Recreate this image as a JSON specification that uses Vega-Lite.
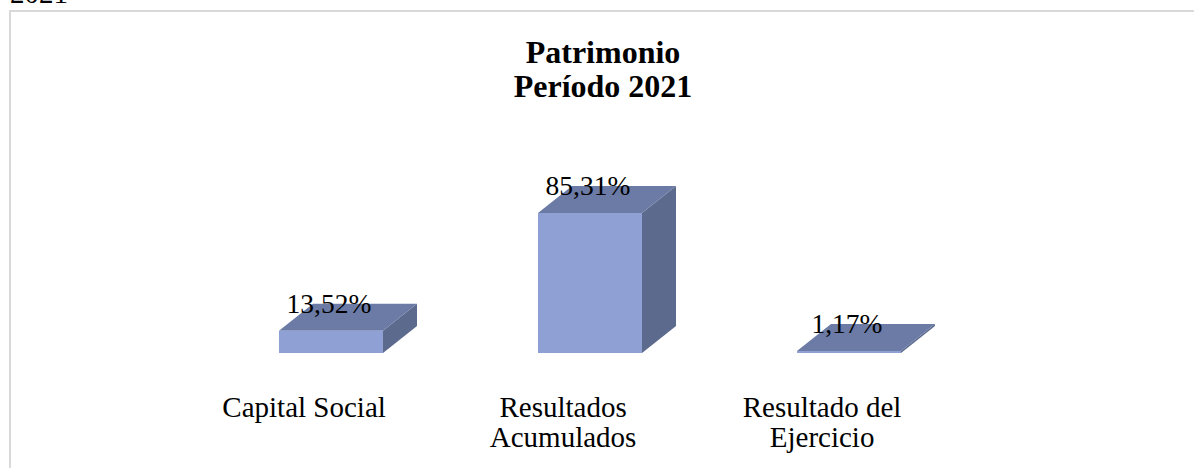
{
  "$schema": "https://vega.github.io/schema/vega-lite/v6.json",
  "autosize": {"type": "none"},
  "padding": {"left": 10, "top": 11, "right": 0, "bottom": 0},
  "width": 1190,
  "height": 470,
  "background": "white",
  "config": {
    "view": {"stroke": "#D9D9D9", "strokeWidth": 2},
    "font": "Liberation Serif"
  },
  "data": {
    "values": [
      {"category": "Capital Social", "value": 13.52},
      {"category": "Resultados Acumulados", "value": 85.31},
      {"category": "Resultado del Ejercicio", "value": 1.17}
    ]
  },
  "transform": [
    {"window": [{"op": "row_number", "as": "rn"}]},
    {"calculate": "datum.rn - 1", "as": "i"}
  ],
  "layer": [
    {
      "transform": [
        {"calculate": "[0, 1]", "as": "k"},
        {"flatten": ["k"]},
        {"calculate": "datum.i + 0.2008 + datum.k * 0.1313", "as": "sx"},
        {"calculate": "datum.value + datum.k * 16.46", "as": "sy"},
        {"calculate": "datum.k * 16.46", "as": "sy2"}
      ],
      "mark": {"type": "area", "orient": "vertical", "color": "#5B6A8D", "interpolate": "linear"},
      "encoding": {
        "x": {"field": "sx", "type": "quantitative", "axis": null, "scale": {"domain": [-1.2394, 3.3552], "nice": false, "zero": false}},
        "y": {"field": "sy", "type": "quantitative", "axis": null, "stack": null, "scale": {"domain": [-78.05, 208.54], "nice": false, "zero": false}},
        "y2": {"field": "sy2"},
        "detail": {"field": "category"}
      }
    },
    {
      "transform": [
        {"calculate": "[0, 1]", "as": "k"},
        {"flatten": ["k"]},
        {"calculate": "datum.i - 0.2008 + datum.k * 0.1313", "as": "tx"},
        {"calculate": "datum.i + 0.2008 + datum.k * 0.1313", "as": "tx2"},
        {"calculate": "datum.value + datum.k * 16.46", "as": "ty"}
      ],
      "mark": {"type": "area", "orient": "horizontal", "color": "#6B7BA6", "interpolate": "linear"},
      "encoding": {
        "y": {"field": "ty", "type": "quantitative", "axis": null, "scale": {"domain": [-78.05, 208.54], "nice": false, "zero": false}},
        "x": {"field": "tx", "type": "quantitative", "axis": null, "stack": null, "scale": {"domain": [-1.2394, 3.3552], "nice": false, "zero": false}},
        "x2": {"field": "tx2"},
        "detail": {"field": "category"}
      }
    },
    {
      "transform": [
        {"calculate": "datum.i - 0.2008", "as": "fx"},
        {"calculate": "datum.i + 0.2008", "as": "fx2"}
      ],
      "mark": {"type": "rect", "color": "#8FA0D4"},
      "encoding": {
        "x": {"field": "fx", "type": "quantitative", "axis": null, "scale": {"domain": [-1.2394, 3.3552], "nice": false, "zero": false}},
        "x2": {"field": "fx2"},
        "y": {"field": "value", "type": "quantitative", "axis": null, "scale": {"domain": [-78.05, 208.54], "nice": false, "zero": false}},
        "y2": {"datum": 0}
      }
    },
    {
      "transform": [
        {"calculate": "replace(format(datum.value, '.2f'), '.', ',') + '%'", "as": "label"}
      ],
      "mark": {"type": "text", "font": "Liberation Serif", "fontSize": 27.5, "color": "black", "align": "center", "baseline": "alphabetic", "dy": -18, "dx": -2},
      "encoding": {
        "x": {"field": "i", "type": "quantitative", "axis": null, "scale": {"domain": [-1.2394, 3.3552], "nice": false, "zero": false}},
        "y": {"field": "value", "type": "quantitative", "axis": null, "scale": {"domain": [-78.05, 208.54], "nice": false, "zero": false}},
        "text": {"field": "label"}
      }
    },
    {
      "transform": [
        {"calculate": "datum.i - 0.104", "as": "lx"},
        {"calculate": "length(datum.category) > 14 ? [substring(datum.category, 0, lastindexof(datum.category, ' ')), substring(datum.category, lastindexof(datum.category, ' ') + 1)] : [datum.category]", "as": "lines"}
      ],
      "mark": {"type": "text", "font": "Liberation Serif", "fontSize": 29, "color": "black", "align": "center", "baseline": "alphabetic", "lineHeight": 30},
      "encoding": {
        "x": {"field": "lx", "type": "quantitative", "axis": null, "scale": {"domain": [-1.2394, 3.3552], "nice": false, "zero": false}},
        "y": {"datum": -39.0, "type": "quantitative", "axis": null, "scale": {"domain": [-78.05, 208.54], "nice": false, "zero": false}},
        "text": {"field": "lines"}
      }
    },
    {
      "data": {"values": [{"heading": ["Patrimonio", "Período 2021"]}]},
      "mark": {"type": "text", "font": "Liberation Serif", "fontSize": 32, "fontWeight": "bold", "color": "black", "align": "center", "baseline": "alphabetic", "lineHeight": 34},
      "encoding": {
        "x": {"datum": 1.0502, "type": "quantitative", "axis": null, "scale": {"domain": [-1.2394, 3.3552], "nice": false, "zero": false}},
        "y": {"datum": 176.83, "type": "quantitative", "axis": null, "scale": {"domain": [-78.05, 208.54], "nice": false, "zero": false}},
        "text": {"field": "heading"}
      }
    },
    {
      "data": {"values": [{"caption": "2021"}]},
      "mark": {"type": "text", "font": "Liberation Serif", "fontSize": 29, "color": "black", "align": "left", "baseline": "alphabetic"},
      "encoding": {
        "x": {"datum": -1.2394, "type": "quantitative", "axis": null, "scale": {"domain": [-1.2394, 3.3552], "nice": false, "zero": false}},
        "y": {"datum": 213.4, "type": "quantitative", "axis": null, "scale": {"domain": [-78.05, 208.54], "nice": false, "zero": false}},
        "text": {"field": "caption"}
      }
    }
  ]
}
